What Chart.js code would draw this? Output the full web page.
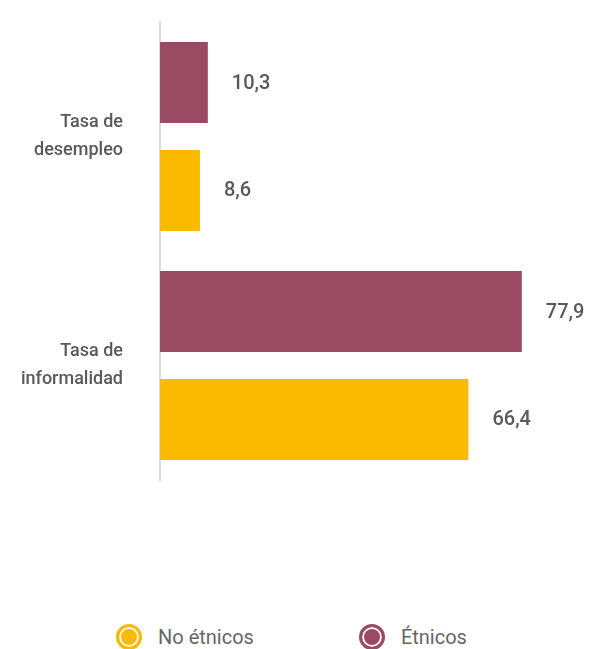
<!DOCTYPE html>
<html lang="es">
<head>
    <meta charset="UTF-8">
    <title>Tasa de desempleo e informalidad</title>
    <script src="https://cdn.jsdelivr.net/npm/chart.js"></script>
    <style>
        body { margin: 0; background: #fff; font-family: 'Roboto', sans-serif; overflow: hidden; }
        .wrap { position: relative; width: 590px; height: 649px; }
        #legend { position: absolute; top: 624px; left: 116px; display: flex; align-items: center; }
        .item { display: flex; align-items: center; margin-right: 105px; }
        .item:last-child { margin-right: 0; }
        .dot { width: 20px; height: 20px; border-radius: 50%; border: 3px solid; box-shadow: inset 0 0 0 2px #fff; margin-right: 16px; }
        .item span { font-size: 20px; color: #666; }
    </style>
</head>
<body>
    <div class="wrap">
        <canvas id="chart" width="590" height="500"></canvas>
        <div id="legend"></div>
    </div>

    <script>
        const categories = [['Tasa de', 'desempleo'], ['Tasa de', 'informalidad']];
        const etnicos = [10.3, 77.9];
        const noEtnicos = [8.6, 66.4];
        const seriesNames = ['Étnicos', 'No étnicos'];
        const colors = ['#9b4a63', '#fbba00'];

        // value labels to the right of each bar
        const valueLabels = {
            id: 'valueLabels',
            afterDatasetsDraw(chart) {
                const ctx = chart.ctx;
                ctx.save();
                ctx.font = '500 20px Roboto';
                ctx.fillStyle = '#595959';
                ctx.textAlign = 'left';
                ctx.textBaseline = 'middle';
                chart.data.datasets.forEach((ds, i) => {
                    chart.getDatasetMeta(i).data.forEach((bar, j) => {
                        const txt = ds.data[j].toFixed(1).replace('.', ',');
                        ctx.fillText(txt, bar.x + 24, bar.y + 1);
                    });
                });
                ctx.restore();
            }
        };

        const chart = new Chart(document.getElementById('chart').getContext('2d'), {
            type: 'bar',
            data: {
                labels: categories,
                datasets: [
                    { label: seriesNames[0], data: etnicos, backgroundColor: colors[0] },
                    { label: seriesNames[1], data: noEtnicos, backgroundColor: colors[1] }
                ]
            },
            options: {
                indexAxis: 'y',
                responsive: false,
                animation: false,
                categoryPercentage: 0.943,
                barPercentage: 0.75,
                layout: { padding: { top: 22, right: 12, bottom: 20, left: 0 } },
                plugins: {
                    legend: { display: false },
                    tooltip: { enabled: false }
                },
                scales: {
                    x: { display: false, min: 0, max: 90 },
                    y: {
                        grid: { display: false, drawTicks: false },
                        border: { display: true, color: '#dcdcdc', width: 2 },
                        ticks: {
                            padding: 37,
                            color: '#595959',
                            font: { family: 'Roboto', size: 18, weight: '500', lineHeight: 1.55 }
                        },
                        afterFit(scale) {
                            scale.width = 160;
                            scale.paddingTop = 0;
                            scale.paddingBottom = 0;
                        }
                    }
                }
            },
            plugins: [valueLabels]
        });

        // legend, No étnicos first
        const legend = document.getElementById('legend');
        [1, 0].forEach(i => {
            const item = document.createElement('div');
            item.className = 'item';
            item.innerHTML = `<div class="dot" style="border-color:${colors[i]};background:${colors[i]}"></div><span>${seriesNames[i]}</span>`;
            legend.appendChild(item);
        });
    </script>
</body>
</html>
